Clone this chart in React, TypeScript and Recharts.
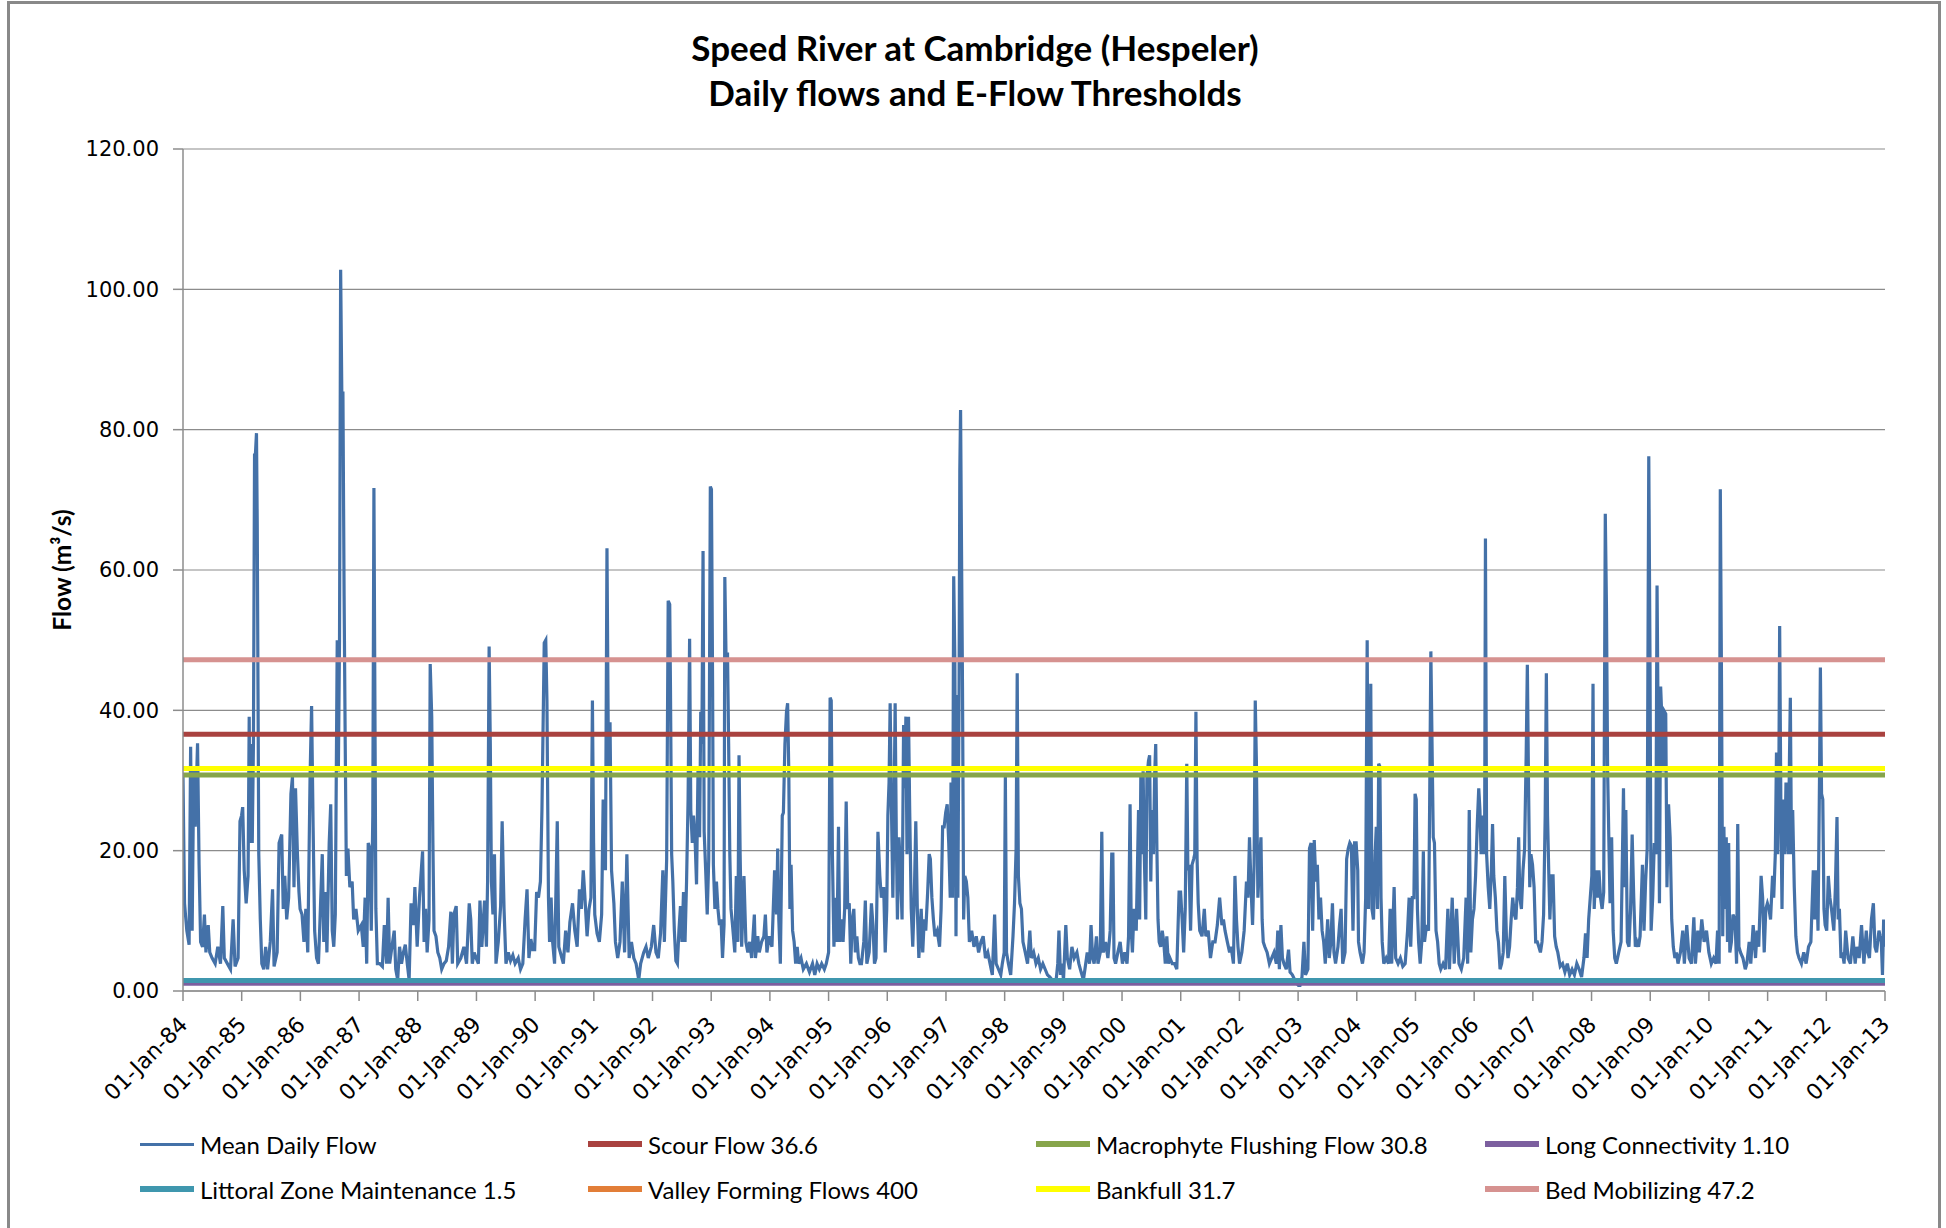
import React from 'react';
import { LineChart, Line, XAxis, YAxis, CartesianGrid } from 'recharts';

const FONT_TICK = '"DejaVu Sans", Verdana, sans-serif';
const FONT_TEXT = 'Lato, "Open Sans", sans-serif';

const titleLines = ['Speed River at Cambridge (Hespeler)', 'Daily flows and E-Flow Thresholds'];
const yAxisTitle = 'Flow (m³/s)';

// x axis: years since 01-Jan-84
const xTickYears = [0, 1, 2, 3, 4, 5, 6, 7, 8, 9, 10, 11, 12, 13, 14, 15, 16, 17, 18, 19, 20, 21, 22, 23, 24, 25, 26, 27, 28, 29];
const xTickLabels = [
  '01-Jan-84', '01-Jan-85', '01-Jan-86', '01-Jan-87', '01-Jan-88', '01-Jan-89', '01-Jan-90', '01-Jan-91',
  '01-Jan-92', '01-Jan-93', '01-Jan-94', '01-Jan-95', '01-Jan-96', '01-Jan-97', '01-Jan-98', '01-Jan-99',
  '01-Jan-00', '01-Jan-01', '01-Jan-02', '01-Jan-03', '01-Jan-04', '01-Jan-05', '01-Jan-06', '01-Jan-07',
  '01-Jan-08', '01-Jan-09', '01-Jan-10', '01-Jan-11', '01-Jan-12', '01-Jan-13',
];
const yTicks = [0, 20, 40, 60, 80, 100, 120];

const flowName = 'Mean Daily Flow';
const flowColor = '#4471a8';

// [years since 01-Jan-84, flow m3/s]
const flow1984to1993: [number, number][] = [
  [0,30.5],[0.026,12.5],[0.065,8.6],[0.104,6.6],[0.13,34.8],[0.156,8.6],[0.183,32],[0.209,23.4],[0.248,35.3],[0.274,18],[0.3,7],[0.333,6.3],[0.365,10.9],[0.391,5.5],[0.43,9.4],[0.456,5.5],[0.496,4.7],[0.548,3.9],[0.593,6.3],[0.639,3.9],[0.678,12.1],[0.704,4.7],[0.756,3.9],[0.809,3.1],[0.854,10.2],[0.887,3.5],[0.939,4.7],[0.971,24.2],[0.998,25],
  [1.017,26.2],[1.043,17.2],[1.076,12.5],[1.109,16.4],[1.128,39.1],[1.141,21.1],[1.161,35.2],[1.18,21.1],[1.2,35.2],[1.219,76.6],[1.232,76.2],[1.252,79.5],[1.265,66.4],[1.278,43],[1.291,19.5],[1.317,10.2],[1.343,3.9],[1.376,3.1],[1.408,6.3],[1.441,3.1],[1.487,7],[1.526,14.5],[1.552,3.5],[1.604,5.5],[1.637,21.1],[1.682,22.3],[1.708,11.7],[1.734,16.4],[1.767,10.2],[1.8,13.3],[1.839,28.1],[1.865,30.5],[1.891,14.8],[1.917,28.9],[1.95,19.5],[1.976,14.1],[1.995,11.7],
  [2.028,10.9],[2.061,7],[2.093,11.7],[2.126,5.5],[2.165,30.5],[2.191,40.6],[2.217,23.4],[2.243,8.6],[2.276,4.7],[2.308,3.9],[2.341,11.7],[2.373,19.5],[2.399,7],[2.425,14.1],[2.452,5.5],[2.491,21.1],[2.517,26.6],[2.543,8.6],[2.569,6.3],[2.595,10.9],[2.628,50],[2.647,31.3],[2.667,50],[2.686,102.8],[2.706,85.2],[2.725,85.2],[2.745,56.3],[2.764,35.2],[2.784,16.4],[2.81,20.3],[2.843,14.8],[2.882,15.6],[2.908,10.2],[2.947,11.7],[2.986,8.6],
  [3.038,9.4],[3.071,6.3],[3.103,13.3],[3.13,3.9],[3.156,21.1],[3.182,20.3],[3.208,8.6],[3.234,25],[3.253,71.7],[3.273,35.2],[3.286,11.7],[3.312,3.9],[3.351,3.9],[3.397,3.5],[3.43,9.4],[3.469,3.9],[3.495,13.3],[3.521,3.9],[3.56,6.3],[3.599,8.6],[3.625,3.1],[3.658,1.6],[3.69,6.3],[3.723,3.9],[3.756,5.5],[3.788,6.6],[3.821,3.9],[3.853,1.6],[3.886,12.5],[3.925,9.4],[3.951,14.8],[3.99,6.3],
  [4.029,13.3],[4.082,19.9],[4.108,7],[4.134,11.7],[4.16,5.5],[4.192,10.2],[4.212,46.6],[4.238,39.1],[4.258,21.1],[4.277,8.6],[4.31,7.8],[4.342,5.5],[4.375,4.7],[4.408,3.1],[4.447,3.9],[4.486,4.3],[4.525,6.3],[4.564,11.3],[4.59,3.9],[4.616,10.9],[4.655,12.1],[4.681,3.9],[4.734,4.7],[4.786,6.3],[4.831,3.9],[4.877,12.5],[4.903,10.2],[4.929,3.9],[4.962,5.5],[4.994,4.7],
  [5.033,3.9],[5.06,12.9],[5.092,6.3],[5.138,12.9],[5.17,6.3],[5.19,15.6],[5.216,49.1],[5.236,35.2],[5.255,15.6],[5.281,10.9],[5.307,19.5],[5.333,3.9],[5.372,7],[5.412,12.1],[5.438,24.2],[5.47,11.7],[5.503,3.9],[5.542,5.5],[5.581,4.3],[5.62,5.1],[5.659,3.9],[5.712,4.7],[5.751,3.1],[5.79,3.9],[5.829,10.2],[5.862,14.5],[5.894,4.7],[5.927,7.4],[5.96,5.9],[5.992,5.9],
  [6.025,14.1],[6.057,13.3],[6.09,15.6],[6.116,25.8],[6.155,49.6],[6.181,50],[6.201,41.4],[6.227,13.3],[6.246,7],[6.272,13.3],[6.298,7],[6.331,3.9],[6.377,24.2],[6.403,6.3],[6.429,5.5],[6.481,3.9],[6.52,8.6],[6.559,5.5],[6.592,9.8],[6.637,12.5],[6.676,8.6],[6.716,6.3],[6.755,14.5],[6.787,11.7],[6.82,17.2],[6.846,13.7],[6.885,7.8],[6.918,11.7],[6.95,13.3],[6.976,41.4],[6.996,21.1],
  [7.016,10.9],[7.055,8.2],[7.094,7],[7.133,10.9],[7.159,27.3],[7.198,17.2],[7.224,63.1],[7.25,31.3],[7.276,38.3],[7.302,17.2],[7.342,12.5],[7.368,7],[7.407,4.7],[7.446,7],[7.485,15.6],[7.524,5.5],[7.563,19.5],[7.602,4.7],[7.641,7],[7.681,4.7],[7.72,3.9],[7.765,1.6],[7.798,3.9],[7.85,5.5],[7.889,6.3],[7.928,4.7],[7.98,6.3],
  [8.02,9.4],[8.059,5.5],[8.098,4.7],[8.137,8.2],[8.176,17.2],[8.202,7],[8.241,18.8],[8.267,55.6],[8.293,55.1],[8.306,43],[8.326,19.5],[8.346,15.6],[8.372,8.6],[8.398,4.3],[8.424,3.9],[8.45,8.6],[8.476,12.1],[8.502,7],[8.528,14.1],[8.554,7],[8.58,15.6],[8.606,27.3],[8.632,50.2],[8.652,25.8],[8.678,21.1],[8.698,25],[8.724,21.9],[8.75,15.2],[8.776,32],[8.802,21.9],[8.822,39.8],[8.841,35.2],[8.861,62.7],[8.88,22.7],[8.906,17.2],[8.932,10.9],[8.958,18.8],[8.985,71.9],
  [9.004,71.5],[9.024,43],[9.037,18],[9.063,11.7],[9.089,15.6],[9.115,11.7],[9.141,9.4],[9.167,10.2],[9.193,4.7],[9.219,9.4],[9.232,59],[9.252,48],[9.278,48],[9.297,35.2],[9.317,19.5],[9.337,11.7],[9.363,9.4],[9.402,5.5],[9.428,16.4],[9.454,7],[9.474,33.6],[9.493,19.5],[9.519,6.3],[9.558,16.4],[9.591,7],[9.624,5.5],[9.656,7],[9.689,4.7],[9.735,10.9],[9.754,4.7],[9.793,7.8],[9.819,5.5],[9.858,7],[9.897,7.8],[9.923,10.9],[9.949,5.5],[9.988,7.8],
];

const flow1994to2002: [number, number][] = [
  [10.035,6.3],[10.08,17.2],[10.113,10.9],[10.133,20.3],[10.152,10.2],[10.178,3.9],[10.211,25],[10.23,25.4],[10.256,35.2],[10.283,39.8],[10.302,41],[10.322,31.3],[10.341,11.7],[10.361,18],[10.387,8.6],[10.413,7],[10.439,3.9],[10.465,6.3],[10.491,3.9],[10.53,4.7],[10.569,3.1],[10.622,3.9],[10.674,2.7],[10.726,3.9],[10.765,2.3],[10.804,3.9],[10.843,3.1],[10.882,3.9],[10.928,3.1],[10.961,3.9],
  [11,5.5],[11.026,41.8],[11.045,41.4],[11.065,19.5],[11.091,6.3],[11.117,13.3],[11.143,7],[11.169,23.4],[11.189,7],[11.221,10.2],[11.247,7],[11.274,11.7],[11.3,27],[11.326,11.7],[11.352,12.5],[11.378,3.9],[11.404,10.2],[11.43,11.7],[11.456,5.5],[11.482,7.8],[11.508,4.7],[11.534,3.9],[11.56,3.9],[11.6,7],[11.626,12.9],[11.652,3.9],[11.691,5.5],[11.73,12.5],[11.756,9.4],[11.782,3.9],[11.808,4.7],[11.841,22.7],[11.873,16.4],[11.899,13.3],[11.939,14.8],[11.965,5.5],[11.991,11.7],
  [12.01,25],[12.03,29.7],[12.049,41],[12.069,27.3],[12.095,13.3],[12.115,25],[12.134,41],[12.154,21.9],[12.173,10.2],[12.199,21.9],[12.226,17.2],[12.252,10.2],[12.278,37.9],[12.297,28.9],[12.317,39.1],[12.336,19.5],[12.362,39.1],[12.382,25.8],[12.408,11.7],[12.434,6.3],[12.46,13.3],[12.486,24.2],[12.512,11.7],[12.538,4.7],[12.578,11.7],[12.604,5.5],[12.63,10.2],[12.656,8.6],[12.688,14.1],[12.714,19.5],[12.734,18.8],[12.76,13.3],[12.786,10.2],[12.812,7.8],[12.851,8.6],[12.891,6.3],[12.917,11.7],[12.943,23.4],[12.969,23.4],[12.995,25.4],
  [13.021,26.6],[13.047,21.1],[13.073,13.3],[13.086,29.7],[13.112,13.3],[13.132,59.1],[13.151,47.3],[13.171,7.8],[13.19,42.2],[13.203,13.3],[13.223,42.2],[13.236,74.2],[13.249,82.8],[13.262,66.4],[13.282,43],[13.301,10.2],[13.321,16.4],[13.347,15.6],[13.373,13.3],[13.399,7],[13.438,8.6],[13.477,6.3],[13.516,7.8],[13.556,5.5],[13.595,7],[13.634,7.8],[13.673,4.7],[13.712,5.5],[13.751,3.9],[13.79,2.3],[13.829,10.9],[13.855,3.9],[13.895,3.1],[13.934,2.3],[13.96,3.9],[13.992,5.5],
  [14.012,30.5],[14.032,5.5],[14.064,3.9],[14.103,2.3],[14.142,7.8],[14.168,12.5],[14.195,20.3],[14.214,45.3],[14.234,16.4],[14.26,12.5],[14.286,11.7],[14.312,7],[14.351,5.5],[14.39,3.9],[14.429,8.6],[14.455,4.7],[14.494,5.5],[14.534,3.9],[14.573,4.7],[14.612,3.1],[14.651,3.9],[14.69,3.1],[14.729,2.3],[14.768,2],[14.807,1.6],[14.847,1.2],[14.873,1.2],[14.905,3.9],[14.925,8.6],[14.951,2.3],[14.977,3.9],
  [15.003,1.6],[15.042,9.4],[15.068,4.7],[15.107,3.1],[15.146,6.3],[15.185,4.7],[15.231,5.5],[15.264,3.9],[15.303,2.7],[15.342,1.6],[15.368,3.1],[15.407,5.5],[15.446,3.9],[15.472,9.4],[15.499,4.7],[15.525,3.9],[15.564,7.8],[15.59,3.9],[15.629,5.5],[15.655,22.7],[15.681,5.5],[15.72,7],[15.759,4.7],[15.798,8.6],[15.825,19.5],[15.844,19.5],[15.864,4.7],[15.89,3.9],[15.929,5.5],[15.968,7],
  [16.007,3.9],[16.046,5.5],[16.085,3.9],[16.111,7.8],[16.137,26.6],[16.157,8.6],[16.177,5.5],[16.203,11.7],[16.242,8.6],[16.281,25.8],[16.3,10.2],[16.32,30.5],[16.34,19.5],[16.359,31.3],[16.379,19.5],[16.405,10.2],[16.424,30.5],[16.451,32.8],[16.47,33.6],[16.49,15.6],[16.509,25.8],[16.535,19.5],[16.555,30.5],[16.574,35.2],[16.594,20.3],[16.613,10.2],[16.633,7],[16.659,6.3],[16.685,8.6],[16.711,7],[16.737,3.9],[16.763,7.8],[16.789,3.9],[16.815,4.7],[16.855,3.9],[16.894,3.9],[16.933,3.1],[16.972,14.1],[16.998,14.1],
  [17.024,10.2],[17.05,5.5],[17.077,11.7],[17.103,32.4],[17.122,17.2],[17.142,18],[17.168,8.6],[17.194,18],[17.22,18.8],[17.239,19.5],[17.259,39.8],[17.279,18.8],[17.298,12.5],[17.324,8.6],[17.363,7.8],[17.402,11.7],[17.428,7.8],[17.468,8.6],[17.507,4.7],[17.546,7],[17.585,7],[17.624,9.4],[17.663,13.3],[17.702,9.4],[17.728,10.2],[17.755,8.6],[17.794,7],[17.833,5.5],[17.859,6.3],[17.898,3.9],[17.924,16.4],[17.95,10.2],[17.976,6.3],
  [18.002,3.9],[18.041,5.5],[18.081,8.6],[18.12,15.6],[18.146,13.3],[18.172,21.9],[18.198,14.8],[18.224,9.4],[18.25,18],[18.27,41.4],[18.289,32.8],[18.315,13.3],[18.341,18],[18.367,21.9],[18.387,10.2],[18.406,7],[18.433,6.3],[18.472,5.5],[18.511,3.9],[18.55,4.7],[18.589,5.5],[18.629,3.9],[18.654,8.6],[18.681,3.1],[18.707,9.4],[18.733,4.7],[18.759,3.9],[18.798,3.1],[18.837,5.9],[18.863,2.7],[18.902,2.3],[18.941,1.6],[18.967,1.2],[19.006,0.8],
];

const flow2003to2012: [number, number][] = [
  [19.032,0.8],[19.066,2],[19.099,7],[19.126,2.3],[19.167,3.1],[19.194,20.3],[19.221,21.1],[19.248,8.6],[19.275,21.5],[19.302,15.6],[19.328,18],[19.355,10.2],[19.382,13.3],[19.409,8.6],[19.436,7],[19.463,3.9],[19.504,10.2],[19.531,4.7],[19.558,7],[19.585,12.5],[19.611,5.5],[19.638,3.9],[19.679,6.3],[19.706,9.4],[19.733,11.7],[19.76,3.9],[19.8,5.5],[19.827,18.8],[19.854,20.3],[19.881,21.1],[19.908,20.7],[19.935,8.6],[19.962,21.1],[19.989,21.1],
  [20.016,17.2],[20.029,7],[20.056,5.5],[20.097,3.9],[20.124,5.5],[20.151,13.3],[20.177,50],[20.198,11.7],[20.218,22.7],[20.238,43.8],[20.258,11.7],[20.285,10.2],[20.312,19.5],[20.332,23.4],[20.353,11.7],[20.373,32.4],[20.393,32],[20.413,13.3],[20.433,7],[20.46,3.9],[20.501,4.7],[20.541,3.9],[20.568,11.7],[20.595,3.9],[20.636,14.8],[20.663,4.7],[20.703,3.9],[20.743,4.7],[20.784,3.5],[20.824,3.9],[20.865,8.6],[20.892,13.3],[20.919,6.3],[20.946,13.3],[20.973,13.3],[20.993,28.1],
  [21.013,27.3],[21.033,11.7],[21.053,7],[21.08,3.9],[21.107,7],[21.134,19.9],[21.154,7],[21.188,9.4],[21.222,8.6],[21.242,27.3],[21.262,48.4],[21.282,35.2],[21.303,21.9],[21.323,21.1],[21.35,8.6],[21.377,7],[21.404,3.9],[21.431,3.1],[21.471,3.9],[21.512,3.1],[21.552,11.7],[21.579,3.1],[21.626,13.3],[21.66,3.9],[21.7,11.7],[21.741,3.9],[21.781,3.1],[21.822,4.7],[21.862,13.3],[21.889,3.9],[21.916,25.8],[21.943,5.5],[21.97,10.2],[21.997,11.7],
  [22.024,16.4],[22.051,23.4],[22.078,28.9],[22.098,25.8],[22.118,19.5],[22.138,25],[22.158,19.5],[22.179,24.2],[22.192,64.5],[22.212,19.5],[22.239,14.8],[22.266,11.7],[22.293,17.2],[22.313,23.8],[22.334,16.4],[22.361,13.3],[22.388,8.6],[22.414,7],[22.441,3.1],[22.468,3.9],[22.495,5.5],[22.522,16.4],[22.549,7.8],[22.576,4.7],[22.603,6.3],[22.63,10.2],[22.657,13.3],[22.684,10.9],[22.711,10.2],[22.738,14.8],[22.758,21.9],[22.778,13.3],[22.805,11.7],[22.832,17.2],[22.859,20.3],[22.886,33.6],[22.906,46.5],[22.927,28.9],[22.947,14.8],[22.967,19.5],[22.994,18],
  [23.021,14.8],[23.048,7],[23.075,7],[23.102,6.3],[23.129,5.5],[23.156,7],[23.183,10.9],[23.21,25],[23.23,45.3],[23.25,25],[23.27,17.2],[23.29,10.2],[23.317,16.4],[23.344,16.4],[23.371,7.8],[23.398,6.3],[23.425,5.5],[23.466,3.5],[23.506,3.9],[23.546,2.7],[23.587,3.9],[23.627,2.3],[23.668,3.1],[23.708,2.3],[23.749,3.9],[23.789,3.1],[23.83,2],[23.87,4.7],[23.897,8.2],[23.924,4.7],[23.951,10.2],[23.978,13.3],
  [24.005,16.4],[24.025,43.8],[24.045,11.7],[24.072,17.2],[24.099,13.3],[24.126,17.2],[24.153,13.3],[24.18,11.7],[24.207,14.1],[24.234,68],[24.254,54.7],[24.274,31.3],[24.294,21.9],[24.315,12.5],[24.342,21.9],[24.368,8.6],[24.395,4.7],[24.422,3.9],[24.463,5.5],[24.503,7],[24.544,28.9],[24.564,14.8],[24.584,25.8],[24.611,7],[24.638,6.3],[24.665,11.7],[24.692,22.3],[24.719,13.3],[24.746,6.3],[24.773,7],[24.8,6.3],[24.827,7.8],[24.867,18],[24.894,8.6],[24.921,15.6],[24.948,20.3],[24.975,76.2],[24.995,48.4],
  [25.015,8.6],[25.042,13.3],[25.069,21.1],[25.096,19.5],[25.116,57.8],[25.137,35.2],[25.157,12.5],[25.177,43.4],[25.197,39.1],[25.217,31.3],[25.244,39.8],[25.264,39.5],[25.285,14.8],[25.312,26.6],[25.339,21.9],[25.366,10.2],[25.393,6.3],[25.42,4.7],[25.446,5.5],[25.473,3.9],[25.514,5.5],[25.554,8.6],[25.581,3.9],[25.622,9.4],[25.662,4.7],[25.703,3.9],[25.743,10.5],[25.77,3.9],[25.81,8.6],[25.837,5.5],[25.878,10.2],[25.918,7],[25.959,8.6],[25.999,5.5],
  [26.04,3.9],[26.08,4.7],[26.12,3.9],[26.147,8.6],[26.174,3.9],[26.194,71.5],[26.215,43],[26.235,7.8],[26.255,23.4],[26.275,11.7],[26.295,21.9],[26.316,7],[26.336,21.1],[26.356,5.5],[26.383,7],[26.41,10.9],[26.444,10.2],[26.471,3.9],[26.491,23.8],[26.511,6.3],[26.538,5.5],[26.579,4.7],[26.619,3.1],[26.646,3.9],[26.686,7],[26.713,3.9],[26.754,9.4],[26.794,4.7],[26.821,8.6],[26.848,6.3],[26.889,16.4],[26.915,13.3],[26.942,5.5],[26.969,11.7],[26.996,12.5],
  [27.023,11.7],[27.05,10.2],[27.084,16.4],[27.104,13.3],[27.131,19.5],[27.151,34],[27.171,19.5],[27.192,31.3],[27.205,52],[27.225,27.3],[27.245,11.7],[27.266,27.3],[27.293,19.5],[27.313,29.7],[27.333,27.3],[27.353,19.5],[27.373,33.6],[27.387,41.8],[27.407,19.5],[27.427,25.8],[27.454,14.8],[27.481,7.8],[27.508,5.5],[27.535,4.7],[27.576,3.9],[27.616,5.5],[27.656,3.9],[27.697,6.3],[27.737,7],[27.778,17.2],[27.805,10.2],[27.832,17.2],[27.859,8.6],[27.886,32],[27.899,46.1],[27.919,28.1],[27.94,27.3],[27.96,11.7],[27.98,9.4],
  [28.007,8.6],[28.034,16.4],[28.061,13.3],[28.088,11.7],[28.128,8.6],[28.155,14.8],[28.182,24.8],[28.202,10.2],[28.223,11.7],[28.25,4.7],[28.276,5.5],[28.303,3.9],[28.33,8.6],[28.371,4.7],[28.411,3.9],[28.452,7.8],[28.492,3.9],[28.519,6.3],[28.56,4.7],[28.6,9.4],[28.64,3.9],[28.681,8.6],[28.708,5.5],[28.735,4.7],[28.769,10.2],[28.802,12.5],[28.829,6.3],[28.856,5.5],[28.897,8.6],[28.937,7],[28.957,2.3],[28.977,10.2],[28.991,6.3],
];

const thresholdNames = [
  'Scour Flow 36.6', 'Macrophyte Flushing Flow 30.8', 'Long Connectivity 1.10', 'Littoral Zone Maintenance 1.5',
  'Valley Forming Flows 400', 'Bankfull 31.7', 'Bed Mobilizing 47.2',
];
const thresholdValues = [36.6, 30.8, 1.1, 1.5, 400, 31.7, 47.2];
const thresholdColors = ['#a9423f', '#87a54b', '#7c5f9f', '#3f97ae', '#e27e38', '#ffff00', '#d69290'];

const flowData = [...flow1984to1993, ...flow1994to2002, ...flow2003to2012].map(([t, v]) => ({ t, flow: v }));
const xStart = xTickYears[0];
const xEnd = xTickYears[xTickYears.length - 1];

const legendItems = [
  { name: flowName, color: flowColor, thick: 3 },
  ...thresholdNames.map((n, i) => ({ name: n, color: thresholdColors[i], thick: 6 })),
];

const XTick = (props: any) => {
  const { x, y, payload } = props;
  const label = xTickLabels[Math.round(payload.value)] ?? '';
  const ax = x + 6;
  const ay = y + 23;
  return (
    <text x={ax} y={ay} transform={`rotate(-45 ${ax} ${ay})`} textAnchor="end"
      style={{ fontFamily: FONT_TICK, fontSize: 22 }} fill="#000">
      {label}
    </text>
  );
};

export default function App() {
  const W = 1946;
  const H = 1228;
  return (
    <div style={{ position: 'absolute', left: 0, top: 0, width: W, height: H, background: '#fff', overflow: 'hidden' }}>
      <div style={{ position: 'absolute', left: 7, top: 1, width: 1934, height: 1260, border: '3px solid #898989', boxSizing: 'border-box' }} />
      <div style={{ position: 'absolute', left: 0, top: 25, width: 1950, textAlign: 'center', fontFamily: FONT_TEXT, fontWeight: 700, fontSize: 35, lineHeight: '45px', color: '#000' }}>
        {titleLines.map((l) => <div key={l}>{l}</div>)}
      </div>
      <div style={{ position: 'absolute', left: 61, top: 570, width: 0, height: 0 }}>
        <div style={{ position: 'absolute', transform: 'translate(-50%, -50%) rotate(-90deg)', whiteSpace: 'nowrap', fontFamily: FONT_TEXT, fontWeight: 700, fontSize: 24.5, color: '#000' }}>
          {yAxisTitle}
        </div>
      </div>
      <div style={{ position: 'absolute', left: 0, top: 0 }}>
        <LineChart width={W} height={H} data={flowData} margin={{ top: 149, right: 61, bottom: 99, left: 0 }}>
          <CartesianGrid vertical={false} stroke="#8c8c8c" strokeWidth={1.2} />
          <XAxis type="number" dataKey="t" domain={[xStart, xEnd]} ticks={xTickYears} interval={0}
            height={138} tickSize={10} stroke="#8c8c8c" strokeWidth={1.5} tick={<XTick />} allowDataOverflow />
          <YAxis type="number" domain={[0, 120]} ticks={yTicks} interval={0} width={183} tickSize={10} tickMargin={14}
            stroke="#8c8c8c" strokeWidth={1.5} allowDataOverflow
            tickFormatter={(v: number) => v.toFixed(2)}
            tick={{ fontFamily: FONT_TICK, fontSize: 21, fill: '#000' }} />
          <Line type="linear" dataKey="flow" name={flowName} stroke={flowColor} strokeWidth={3.2}
            dot={false} activeDot={false} isAnimationActive={false} />
          {thresholdValues.map((v, i) => (
            <Line key={thresholdNames[i]} type="linear" name={thresholdNames[i]}
              data={[{ t: xStart, y: v }, { t: xEnd, y: v }]} dataKey="y"
              stroke={thresholdColors[i]} strokeWidth={5} dot={false} activeDot={false} isAnimationActive={false} />
          ))}
        </LineChart>
      </div>
      {legendItems.map((it, i) => {
        const col = i % 4;
        const row = Math.floor(i / 4);
        const left = [140, 588, 1036, 1485][col];
        const cy = [1144, 1189][row];
        return (
          <div key={it.name} style={{ position: 'absolute', left, top: cy - 15, height: 30, display: 'flex', alignItems: 'center', whiteSpace: 'nowrap' }}>
            <div style={{ width: 54, height: it.thick, background: it.color, marginRight: 6 }} />
            <span style={{ fontFamily: FONT_TEXT, fontSize: 24, color: '#000' }}>{it.name}</span>
          </div>
        );
      })}
    </div>
  );
}
